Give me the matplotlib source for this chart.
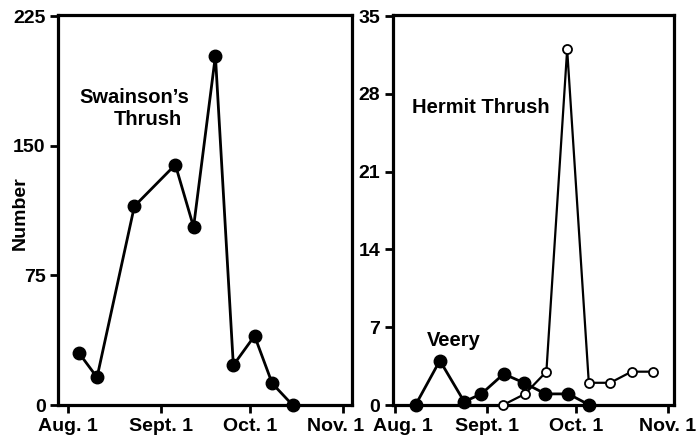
import matplotlib
matplotlib.use("Agg")
import matplotlib.pyplot as plt
import matplotlib.transforms as mtransforms

plt.rcParams['font.family'] = ['Liberation Sans', 'DejaVu Sans']
plt.rcParams['font.weight'] = 'bold'

# days after Aug. 1
swainson_day = [3.7, 9.7, 22.2, 35.9, 42.0, 49.3, 55.3, 62.4, 68.3, 75.1]
swainson_num = [30, 16, 115, 139, 103, 202, 23, 40, 12.5, 0]

veery_day = [6.9, 15.1, 23.3, 29.1, 36.6, 43.4, 50.7, 58.4, 65.5]
veery_num = [0, 4, 0.3, 1.0, 2.8, 2.0, 1.0, 1.0, 0]

hermit_day = [36.4, 43.8, 51.0, 58.0, 65.3, 72.5, 79.7, 86.8]
hermit_num = [0, 1, 3, 32, 2, 2, 3, 3]

xtick_days = [0, 31, 61, 92]
xtick_labels = ["Aug. 1", "Sept. 1", "Oct. 1", "Nov. 1"]
left_yticks = [0, 75, 150, 225]
right_yticks = [0, 7, 14, 21, 28, 35]

fig = plt.figure(figsize=(6.99, 4.37), dpi=100)
ax1 = fig.add_axes([0.083, 0.0732, 0.4206, 0.8925])
ax2 = fig.add_axes([0.5622, 0.0732, 0.402, 0.8925])

for ax in (ax1, ax2):
    for s in ax.spines.values():
        s.set_linewidth(2.3)
        s.set_color('black')
    ax.tick_params(direction='out', length=6, width=2, labelsize=14, pad=3)
    ax.set_xticks(xtick_days)
    ax.set_xticklabels(xtick_labels, fontweight='bold')

ax1.plot(swainson_day, swainson_num, '-o', color='black', lw=2,
         ms=9, mfc='black', mec='black', clip_on=False, zorder=3)
ax1.set_xlim(-3.35, 95.0)
ax1.set_ylim(0, 225.6)
ax1.set_yticks(left_yticks)
ax1.set_yticklabels([str(v) for v in left_yticks], fontweight='bold')
ax1.set_ylabel("Number", fontsize=14, fontweight='bold')
ax1.yaxis.set_label_coords(-0.10, 0.491)
ax1.text(22.1, 178, "Swainson\u2019s", fontsize=14.5, fontweight='bold',
         ha='center', va='center')
ax1.text(26.7, 165, "Thrush", fontsize=14.5, fontweight='bold',
         ha='center', va='center')

ax2.plot(veery_day, veery_num, '-o', color='black', lw=2,
         ms=9, mfc='black', mec='black', clip_on=False, zorder=3)
ax2.plot(hermit_day, hermit_num, '-o', color='black', lw=1.6,
         ms=6.5, mfc='white', mec='black', mew=1.3, clip_on=False, zorder=4)
ax2.set_xlim(-0.7, 94.0)
ax2.set_ylim(0, 35.1)
ax2.set_yticks(right_yticks)
ax2.set_yticklabels([str(v) for v in right_yticks], fontweight='bold')
ax2.text(28.9, 26.8, "Hermit Thrush", fontsize=14.5, fontweight='bold',
         ha='center', va='center')
ax2.text(19.9, 5.8, "Veery", fontsize=14.5, fontweight='bold',
         ha='center', va='center')

# nudge the two adjacent labels apart, as in the original
lbl = ax1.get_xticklabels()[-1]
lbl.set_transform(lbl.get_transform() +
                  mtransforms.ScaledTranslation(-0.07, 0, fig.dpi_scale_trans))
lbl = ax2.get_xticklabels()[0]
lbl.set_transform(lbl.get_transform() +
                  mtransforms.ScaledTranslation(0.08, 0, fig.dpi_scale_trans))

fig.savefig("out.png", dpi=100)
